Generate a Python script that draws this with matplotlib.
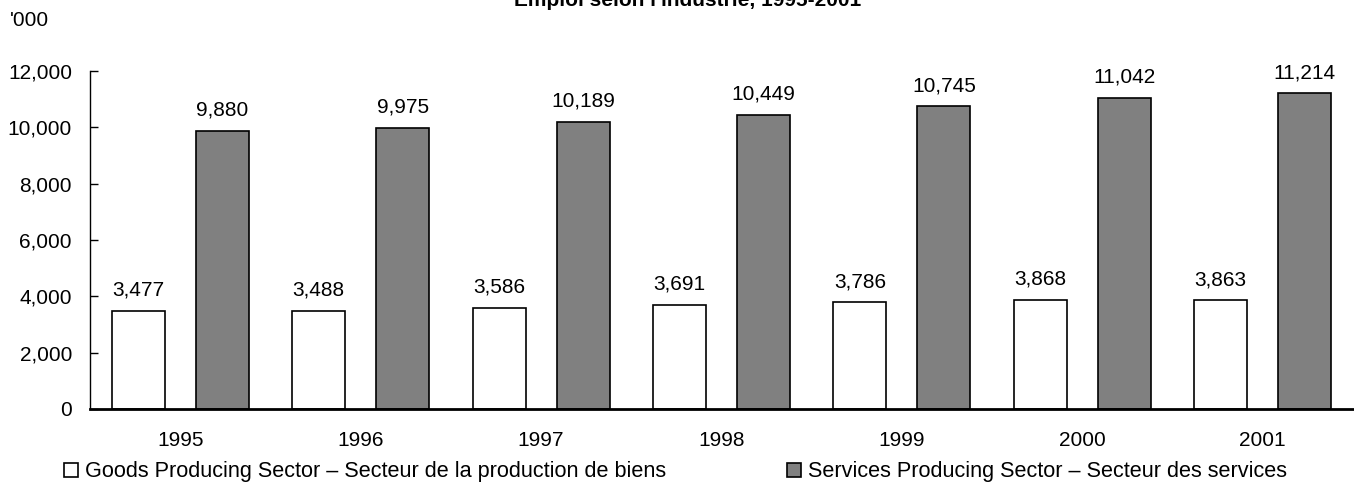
import matplotlib.pyplot as plt
import numpy as np

plt.rcParams['font.family'] = ['Liberation Sans', 'DejaVu Sans']

years = ['1995', '1996', '1997', '1998', '1999', '2000', '2001']
goods = [3477, 3488, 3586, 3691, 3786, 3868, 3863]
services = [9880, 9975, 10189, 10449, 10745, 11042, 11214]
yticks = [0, 2000, 4000, 6000, 8000, 10000, 12000]

title = "Emploi selon l'industrie, 1995-2001"
goods_label = 'Goods Producing Sector \u2013 Secteur de la production de biens'
services_label = 'Services Producing Sector \u2013 Secteur des services'

fs = 15
fig = plt.figure(figsize=(13.54, 4.93), dpi=100)
ax = fig.add_axes([90/1354, 84/493, 1263/1354, 338/493])

x = np.arange(len(years))
off = 0.233
w = 0.294
b1 = ax.bar(x - off, goods, w, color='white', edgecolor='black', linewidth=1.2, label=goods_label)
b2 = ax.bar(x + off, services, w, color='#808080', edgecolor='black', linewidth=1.2, label=services_label)

ax.bar_label(b1, labels=['{:,}'.format(v) for v in goods], padding=8, fontsize=fs)
ax.bar_label(b2, labels=['{:,}'.format(v) for v in services], padding=8, fontsize=fs)

ax.set_xlim(-0.5, 6.5)
ax.set_ylim(0, 12000)
ax.set_yticks(yticks)
ax.set_yticklabels(['{:,}'.format(v) for v in yticks], fontsize=fs)
ax.set_xticks(x)
ax.set_xticklabels(years, fontsize=fs)
ax.tick_params(axis='y', direction='in', length=6, width=1, pad=13)
ax.tick_params(axis='x', length=0, pad=16)

for s in ['top', 'right']:
    ax.spines[s].set_visible(False)
ax.spines['left'].set_linewidth(1)
ax.spines['bottom'].set_linewidth(2)

fig.text(10/1354, 1 - 20/493, "'000", fontsize=fs, va='center', ha='left')
# title runs off the top edge, as in the source image
fig.text(688/1354, 1 - 6/493, title, fontsize=fs, fontweight='bold', ha='center', va='baseline')

fig.legend(loc='center left', bbox_to_anchor=(64/1354, 1 - 472/493), ncol=2, frameon=False,
           fontsize=15.6, handlelength=0.65, handleheight=0.65, handletextpad=0.3,
           columnspacing=5.6, borderaxespad=0, borderpad=0)

fig.savefig('out.png', dpi=100)
